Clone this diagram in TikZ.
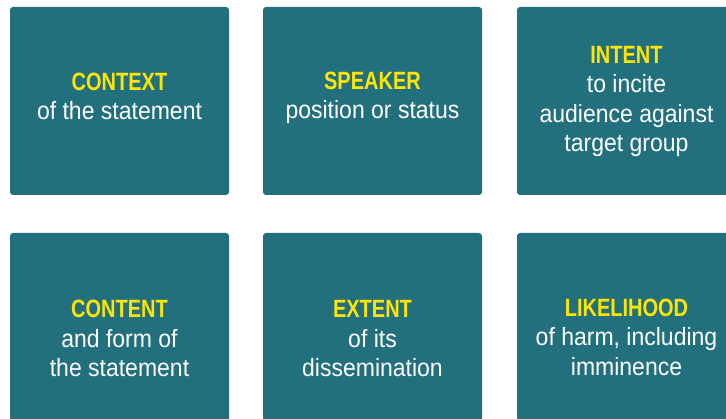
\documentclass[tikz,border=0pt]{standalone}
\usepackage{fontspec}
\setmainfont{Liberation Sans}
\newfontfamily\headfont{Liberation Sans}[FakeStretch=0.80]
\newfontfamily\bodyfont{Liberation Sans}[FakeStretch=0.92]
\newlength{\du}
\setlength{\du}{1pt}
\definecolor{cardcolor}{rgb}{0.135000, 0.435000, 0.495000}
\definecolor{headcolor}{rgb}{1.000000, 0.902000, 0.000000}

\begin{document}
\begin{tikzpicture}[
  card/.style={fill=cardcolor,draw=none,rounded corners=3\du,
    minimum width=219\du,minimum height=188\du,inner sep=0pt},
  label/.style={anchor=base,align=center,inner sep=0pt,text=white,
    font=\bodyfont\fontsize{25}{29.5}\selectfont}]
\pgftransformxscale{1.000000}
\pgftransformyscale{-1.000000}
\useasboundingbox (0\du,0\du) rectangle (726\du,419\du);
\clip (0\du,0\du) rectangle (726\du,419\du);
% top row
\node[card] (context) at (119.500000\du,101.000000\du){};
\node[card] (speaker) at (372.500000\du,101.000000\du){};
\node[card] (intent) at (626.500000\du,101.000000\du){};
% bottom row
\node[card] (content) at (119.500000\du,327.000000\du){};
\node[card] (extent) at (372.500000\du,327.000000\du){};
\node[card] (likelihood) at (626.500000\du,327.000000\du){};
% setfont left to latex (base = last line)
\node[label] (contextlbl) at (119.500000\du,120.000000\du){{\headfont\bfseries\color{headcolor}CONTEXT}\\of the statement};
\node[label] (speakerlbl) at (372.500000\du,119.000000\du){{\headfont\bfseries\color{headcolor}SPEAKER}\\position or status};
\node[label] (intentlbl) at (626.500000\du,152.000000\du){{\headfont\bfseries\color{headcolor}INTENT}\\to incite\\audience against\\target group};
\node[label] (contentlbl) at (119.500000\du,377.000000\du){{\headfont\bfseries\color{headcolor}CONTENT}\\and form of\\the statement};
\node[label] (extentlbl) at (372.500000\du,377.000000\du){{\headfont\bfseries\color{headcolor}EXTENT}\\of its\\dissemination};
\node[label] (likelihoodlbl) at (626.500000\du,375.500000\du){{\headfont\bfseries\color{headcolor}LIKELIHOOD}\\of harm, including\\imminence};
\end{tikzpicture}
\end{document}
